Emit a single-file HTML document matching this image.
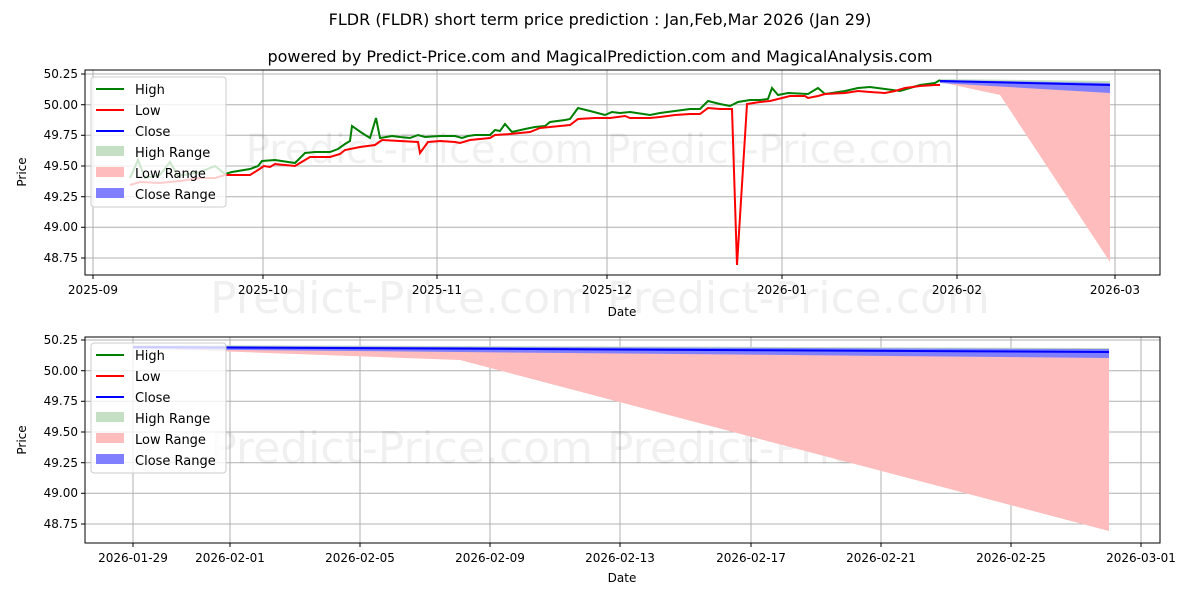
<!DOCTYPE html>
<html><head><meta charset="utf-8"><style>
body{margin:0;background:#fff;font-family:"Liberation Sans","DejaVu Sans",sans-serif;}
text{font-family:"DejaVu Sans","Liberation Sans",sans-serif;}
</style></head><body>
<svg width="1200" height="600" xmlns="http://www.w3.org/2000/svg">
<rect width="1200" height="600" fill="#fff"/>
<text x="600" y="25" font-size="16" text-anchor="middle">FLDR (FLDR) short term price prediction : Jan,Feb,Mar 2026 (Jan 29)</text>
<text x="600" y="62" font-size="16" text-anchor="middle">powered by Predict-Price.com and MagicalPrediction.com and MagicalAnalysis.com</text>

<!-- TOP CHART -->
<g stroke="#b0b0b0" stroke-width="1">
<line x1="93" y1="70" x2="93" y2="275"/><line x1="263" y1="70" x2="263" y2="275"/><line x1="437" y1="70" x2="437" y2="275"/><line x1="607" y1="70" x2="607" y2="275"/><line x1="782" y1="70" x2="782" y2="275"/><line x1="957" y1="70" x2="957" y2="275"/><line x1="1115" y1="70" x2="1115" y2="275"/>
<line x1="85" y1="74" x2="1160" y2="74"/><line x1="85" y1="104.7" x2="1160" y2="104.7"/><line x1="85" y1="135.3" x2="1160" y2="135.3"/><line x1="85" y1="166" x2="1160" y2="166"/><line x1="85" y1="196.7" x2="1160" y2="196.7"/><line x1="85" y1="227.3" x2="1160" y2="227.3"/><line x1="85" y1="258" x2="1160" y2="258"/>
</g>
<text x="600" y="163" font-size="40" fill="#000" fill-opacity="0.06" text-anchor="middle">Predict-Price.com   Predict-Price.com</text>
<text x="600" y="313" font-size="44" fill="#000" fill-opacity="0.06" text-anchor="middle">Predict-Price.com   Predict-Price.com</text>
<polygon points="940,82 1000,95 1110,262 1110,90" fill="#ffbcbc"/>
<polygon points="940,79 1110,81 1110,86 940,81" fill="#c5dfc5"/>
<polygon points="940,80 1110,83 1110,93 940,83" fill="#8080ff"/>
<polyline fill="none" stroke="#008000" stroke-width="2" points="130,178 138,160 145,178 160,175 170,162 178,176 200,172 215,166 225,174 232,172 250,169 258,166 262,161 275,160 295,163 305,153 315,152 330,152 338,149 345,144 350,141 352,126 362,133 370,138 376,118 380,138 392,136 400,137 410,138 418,135 425,137 440,136 455,136 462,138 468,136 475,135 490,135 495,130 500,131 505,124 512,132 525,129 535,127 545,126 550,122 565,120 570,119 578,108 590,111 605,115 612,112 620,113 630,112 650,115 660,113 675,111 690,109 700,109 708,101 720,104 730,106 738,102 750,100 760,100 768,99 772,88 778,95 788,93 808,94 818,88 825,94 845,91 858,88 870,87 885,89 900,91 910,88 920,85 935,83 940,80"/>
<polyline fill="none" stroke="#ff0000" stroke-width="2" points="130,185 140,182 160,183 180,181 200,178 215,178 225,175 232,175 250,175 258,170 264,166 270,167 275,164 295,166 310,157 330,157 340,154 345,150 360,147 375,145 382,140 400,141 418,142 420,153 428,142 440,141 455,142 460,143 470,140 490,138 495,135 510,134 530,132 540,128 560,126 570,125 578,119 595,118 610,118 625,116 630,118 650,118 660,117 675,115 690,114 700,114 708,108 720,109 732,109 737,265 747,104 760,102 770,101 778,99 790,96 805,96 808,98 818,96 825,94 845,93 858,91 870,92 885,93 895,91 905,88 920,86 935,85 940,85"/>
<line x1="940" y1="81" x2="1110" y2="85" stroke="#0000ff" stroke-width="2"/>
<rect x="85" y="70" width="1075" height="205" fill="none" stroke="#000" stroke-width="1"/>
<g stroke="#000" stroke-width="1">
<line x1="81" y1="74" x2="85" y2="74"/><line x1="81" y1="104.7" x2="85" y2="104.7"/><line x1="81" y1="135.3" x2="85" y2="135.3"/><line x1="81" y1="166" x2="85" y2="166"/><line x1="81" y1="196.7" x2="85" y2="196.7"/><line x1="81" y1="227.3" x2="85" y2="227.3"/><line x1="81" y1="258" x2="85" y2="258"/>
<line x1="93" y1="275" x2="93" y2="279"/><line x1="263" y1="275" x2="263" y2="279"/><line x1="437" y1="275" x2="437" y2="279"/><line x1="607" y1="275" x2="607" y2="279"/><line x1="782" y1="275" x2="782" y2="279"/><line x1="957" y1="275" x2="957" y2="279"/><line x1="1115" y1="275" x2="1115" y2="279"/>
</g>
<g font-size="12" text-anchor="end">
<text x="78" y="78">50.25</text><text x="78" y="109">50.00</text><text x="78" y="139">49.75</text><text x="78" y="170">49.50</text><text x="78" y="201">49.25</text><text x="78" y="231">49.00</text><text x="78" y="262">48.75</text>
</g>
<g font-size="12" text-anchor="middle">
<text x="93" y="294">2025-09</text><text x="263" y="294">2025-10</text><text x="437" y="294">2025-11</text><text x="607" y="294">2025-12</text><text x="782" y="294">2026-01</text><text x="957" y="294">2026-02</text><text x="1115" y="294">2026-03</text>
<text x="622" y="316">Date</text>
</g>
<text x="26" y="172" font-size="12" text-anchor="middle" transform="rotate(-90 26 172)">Price</text>

<!-- BOTTOM CHART -->
<g stroke="#b0b0b0" stroke-width="1">
<line x1="133" y1="337" x2="133" y2="543"/><line x1="230" y1="337" x2="230" y2="543"/><line x1="360" y1="337" x2="360" y2="543"/><line x1="490" y1="337" x2="490" y2="543"/><line x1="620" y1="337" x2="620" y2="543"/><line x1="751" y1="337" x2="751" y2="543"/><line x1="881" y1="337" x2="881" y2="543"/><line x1="1011" y1="337" x2="1011" y2="543"/><line x1="1141" y1="337" x2="1141" y2="543"/>
<line x1="85" y1="340" x2="1160" y2="340"/><line x1="85" y1="370.7" x2="1160" y2="370.7"/><line x1="85" y1="401.3" x2="1160" y2="401.3"/><line x1="85" y1="432" x2="1160" y2="432"/><line x1="85" y1="462.7" x2="1160" y2="462.7"/><line x1="85" y1="493.3" x2="1160" y2="493.3"/><line x1="85" y1="524" x2="1160" y2="524"/>
</g>
<text x="600" y="463" font-size="44" fill="#000" fill-opacity="0.06" text-anchor="middle">Predict-Price.com   Predict-Price.com</text>
<polygon points="133,348 460,360 1109,531 1109,352" fill="#ffbcbc"/>
<polygon points="133,345 1109,348 1109,352 133,348" fill="#c5dfc5"/>
<polygon points="133,346 1109,349 1109,358 133,349" fill="#8080ff"/>
<line x1="133" y1="347" x2="1109" y2="352" stroke="#0000ff" stroke-width="2"/>
<rect x="85" y="337" width="1075" height="206" fill="none" stroke="#000" stroke-width="1"/>
<g stroke="#000" stroke-width="1">
<line x1="81" y1="340" x2="85" y2="340"/><line x1="81" y1="370.7" x2="85" y2="370.7"/><line x1="81" y1="401.3" x2="85" y2="401.3"/><line x1="81" y1="432" x2="85" y2="432"/><line x1="81" y1="462.7" x2="85" y2="462.7"/><line x1="81" y1="493.3" x2="85" y2="493.3"/><line x1="81" y1="524" x2="85" y2="524"/>
<line x1="133" y1="543" x2="133" y2="547"/><line x1="230" y1="543" x2="230" y2="547"/><line x1="360" y1="543" x2="360" y2="547"/><line x1="490" y1="543" x2="490" y2="547"/><line x1="620" y1="543" x2="620" y2="547"/><line x1="751" y1="543" x2="751" y2="547"/><line x1="881" y1="543" x2="881" y2="547"/><line x1="1011" y1="543" x2="1011" y2="547"/><line x1="1141" y1="543" x2="1141" y2="547"/>
</g>
<g font-size="12" text-anchor="end">
<text x="78" y="344">50.25</text><text x="78" y="375">50.00</text><text x="78" y="405">49.75</text><text x="78" y="436">49.50</text><text x="78" y="467">49.25</text><text x="78" y="497">49.00</text><text x="78" y="528">48.75</text>
</g>
<g font-size="12" text-anchor="middle">
<text x="133" y="562">2026-01-29</text><text x="230" y="562">2026-02-01</text><text x="360" y="562">2026-02-05</text><text x="490" y="562">2026-02-09</text><text x="620" y="562">2026-02-13</text><text x="751" y="562">2026-02-17</text><text x="881" y="562">2026-02-21</text><text x="1011" y="562">2026-02-25</text><text x="1141" y="562">2026-03-01</text>
<text x="622" y="582">Date</text>
</g>
<text x="26" y="440" font-size="12" text-anchor="middle" transform="rotate(-90 26 440)">Price</text>

<!-- LEGENDS -->
<g id="leg">
<rect x="91" y="77" width="135" height="130" rx="3" fill="#fff" fill-opacity="0.8" stroke="#ccc"/>
<line x1="96" y1="89" x2="124" y2="89" stroke="#008000" stroke-width="2"/>
<line x1="96" y1="110" x2="124" y2="110" stroke="#ff0000" stroke-width="2"/>
<line x1="96" y1="131" x2="124" y2="131" stroke="#0000ff" stroke-width="2"/>
<rect x="96" y="146" width="28" height="10" fill="#c5dfc5"/>
<rect x="96" y="167" width="28" height="10" fill="#ffbcbc"/>
<rect x="96" y="188" width="28" height="10" fill="#8080ff"/>
<g font-size="13"><text x="135" y="94">High</text><text x="135" y="115">Low</text><text x="135" y="136">Close</text><text x="135" y="157">High Range</text><text x="135" y="178">Low Range</text><text x="135" y="199">Close Range</text></g>
</g>
<use href="#leg" y="266"/>
</svg>
</body></html>
